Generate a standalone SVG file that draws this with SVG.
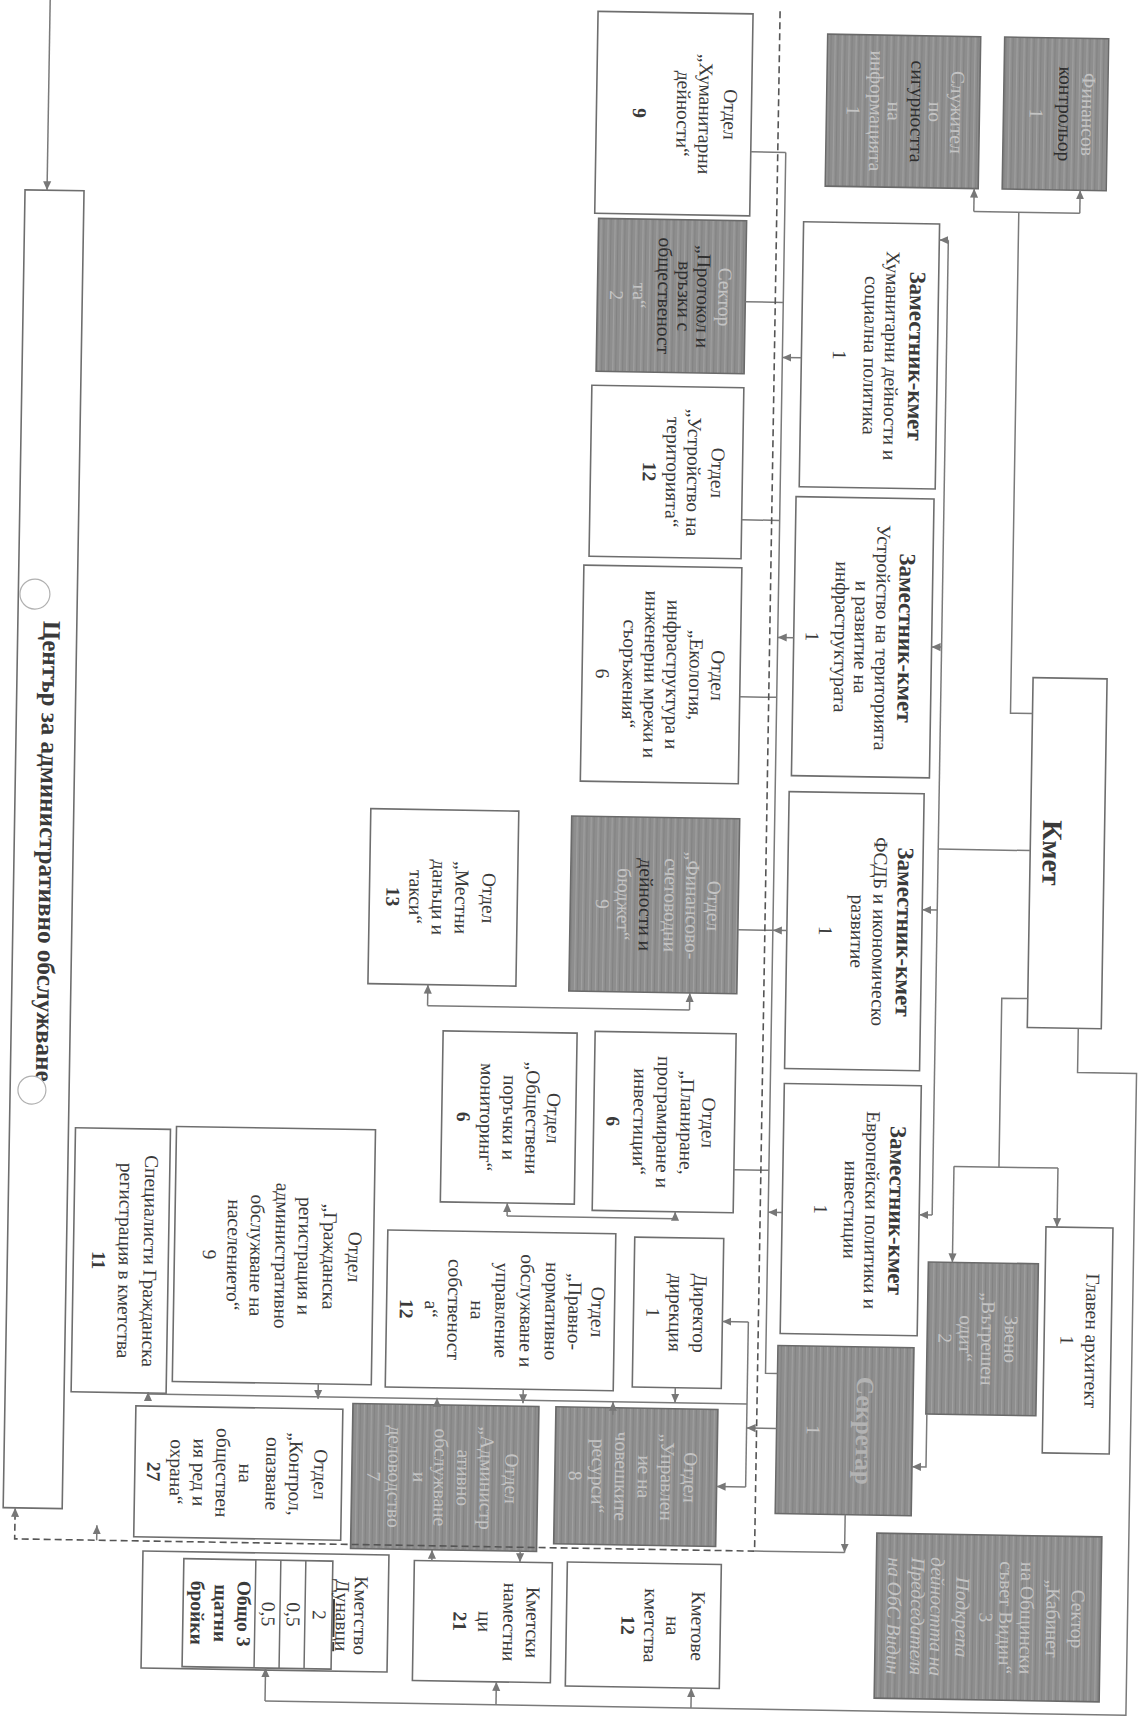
<svg xmlns="http://www.w3.org/2000/svg" width="1144" height="1719" viewBox="0 0 1144 1719">
<defs>
<style>
.box{fill:#fff;stroke:#6e6e6e;stroke-width:1.6}
.gbox{fill:url(#grain);stroke:#6a6a6a;stroke-width:1.6}
.ln{fill:none;stroke:#7a7a7a;stroke-width:1.5}
.ar{fill:none;stroke:#7a7a7a;stroke-width:1.5;marker-end:url(#ah)}
.dash{fill:none;stroke:#555;stroke-width:1.6;stroke-dasharray:7 4}
.art{fill:#fff;stroke:#b0b0b0;stroke-width:1.2}
text{font-family:"Liberation Serif","Times New Roman",serif;font-size:19.5px;fill:#3a3a3a;text-anchor:middle}
.b{font-weight:bold}
.h{font-size:23px;font-weight:bold}
.k{font-size:28px;font-weight:bold}
.s{font-size:25px;font-weight:bold}
.f{fill:#c4c4c4}
.d{fill:#2e2e2e}
.sk{fill:#b3b3b3}
.i{font-style:italic}
.u{text-decoration:underline}
</style>
<marker id="ah" viewBox="0 0 10 10" refX="10" refY="5" markerWidth="9" markerHeight="9" markerUnits="userSpaceOnUse" orient="auto">
<path d="M0,0.5 L10,5 L0,9.5 z" fill="#777"/>
</marker>
<pattern id="grain" width="7" height="40" patternUnits="userSpaceOnUse">
<rect width="7" height="40" fill="#8e8e8e"/>
<rect x="2" width="1.2" height="40" fill="#a0a0a0"/>
<rect x="5" width="0.8" height="40" fill="#7f7f7f"/>
</pattern>
</defs>
<g transform="rotate(0.95 572 860)">
<g id="nodes">
<g id="centar">
<rect class="box" x="14" y="199" width="59" height="1318"/>
<g transform="translate(43.5,860) rotate(90)"><text class="s" x="0" y="4">Център за административно обслужване</text></g>
<circle class="art" cx="30.6" cy="603" r="15"/>
<circle class="art" cx="35.8" cy="1099" r="14"/>
</g>
<g id="otdel-humanitarni">
<rect class="box" x="584" y="11" width="155" height="202"/>
<g transform="translate(661.5,112) rotate(90)">
<text y="-50">Отдел</text><text y="-25">„Хуманитарни</text><text y="-3">дейности“</text><text class="b" y="41">9</text>
</g></g>
<g id="sektor-protokol">
<rect class="gbox" x="588" y="218" width="148" height="153"/>
<g transform="translate(662,294.5) rotate(90)">
<text class="f" y="-47">Сектор</text><text class="d" y="-25.6">„Протокол и</text><text class="d" y="-6.6">връзки с</text><text class="d" y="13.4">общественост</text><text class="f" y="38.4">та“</text><text class="f" y="61.4">2</text>
</g></g>
<g id="sluzhitel-sigurnost">
<rect class="gbox" x="814" y="30" width="153" height="152"/>
<g transform="translate(890.5,106) rotate(90)">
<text class="f" y="-47.8">Служител</text><text class="f" y="-25.8">по</text><text class="d" y="-7.8">сигурността</text><text class="f" y="15.2">на</text><text class="f" y="33.2">информацията</text><text class="f" y="56.2">1</text>
</g></g>
<g id="finansov-kontrolor">
<rect class="gbox" x="991" y="30" width="104" height="152"/>
<g transform="translate(1043,106) rotate(90)">
<text class="f" y="-26.3">Финансов</text><text class="d" y="-3.3">контрольор</text><text class="f" y="25.7">1</text>
</g></g>
<g id="zam-humanitarni">
<rect class="box" x="793" y="218" width="136" height="265"/>
<g transform="translate(861,350.5) rotate(90)">
<text class="h" y="-39.5">Заместник-кмет</text><text y="-15.5">Хуманитарни дейности и</text><text y="5.5">социална политика</text><text y="36.5">1</text>
</g></g>
<g id="zam-ustroistvo">
<rect class="box" x="790" y="493" width="138" height="279"/>
<g transform="translate(859,632.5) rotate(90)">
<text class="h" y="-35.8">Заместник-кмет</text><text y="-13">Устройство на територията</text><text y="8">и развитие на</text><text y="28">инфраструктурата</text><text y="57">1</text>
</g></g>
<g id="zam-fsdb">
<rect class="box" x="788" y="788" width="135" height="277"/>
<g transform="translate(855.5,926.5) rotate(90)">
<text class="h" y="-42.5">Заместник-кмет</text><text y="-18.5">ФСДБ и икономическо</text><text y="3.5">развитие</text><text y="35.5">1</text>
</g></g>
<g id="zam-evropeiski">
<rect class="box" x="788" y="1080" width="137" height="250"/>
<g transform="translate(856.5,1205) rotate(90)">
<text class="h" y="-38.5">Заместник-кмет</text><text y="-14.5">Европейски политики и</text><text y="6.5">инвестиции</text><text y="36.5">1</text>
</g></g>
<g id="kmet">
<rect class="box" x="1030" y="670" width="74" height="350"/>
<g transform="translate(1067,845) rotate(90)"><text class="k" y="24.4">Кмет</text></g>
</g>
<g id="otdel-ustroistvo">
<rect class="box" x="584" y="385" width="152" height="171"/>
<g transform="translate(660,470.5) rotate(90)">
<text y="-44.8">Отдел</text><text y="-20.8">„Устройство на</text><text y="0.2">територията“</text><text class="b" y="23.7">12</text>
</g></g>
<g id="otdel-ekologia">
<rect class="box" x="579" y="565" width="158" height="216"/>
<g transform="translate(658,673) rotate(90)">
<text y="-50.3">Отдел</text><text y="-28.3">„Екология,</text><text y="-5.3">инфраструктура и</text><text y="16.7">инженерни мрежи и</text><text y="38.2">съоръжения“</text><text y="65.2">6</text>
</g></g>
<g id="otdel-finansovo">
<rect class="gbox" x="571" y="816" width="168" height="175"/>
<g transform="translate(655,903.5) rotate(90)">
<text class="f" y="-53">Отдел</text><text class="f" y="-31.6">„Финансово-</text><text class="f" y="-10">счетоводни</text><text class="d" y="15">дейности и</text><text class="f" y="37">бюджет“</text><text class="f" y="58.4">9</text>
</g></g>
<g id="otdel-mestni">
<rect class="box" x="370" y="812" width="148" height="175"/>
<g transform="translate(444,899.5) rotate(90)">
<text y="-38.9">Отдел</text><text y="-11.9">„Местни</text><text y="11.1">данъци и</text><text y="34.1">такси“</text><text class="b" y="57.1">13</text>
</g></g>
<g id="otdel-planirane">
<rect class="box" x="598" y="1031" width="141" height="179"/>
<g transform="translate(668.5,1120.5) rotate(90)">
<text y="-37.8">Отдел</text><text y="-16.3">„Планиране,</text><text y="7.2">програмиране и</text><text y="30.7">инвестиции“</text><text class="b" y="57.7">6</text>
</g></g>
<g id="otdel-obshtestveni">
<rect class="box" x="446" y="1033" width="134" height="171"/>
<g transform="translate(513,1118.5) rotate(90)">
<text y="-38.3">Отдел</text><text y="-17.3">„Обществени</text><text y="5.7">поръчки и</text><text y="28.7">мониторинг“</text><text class="b" y="51.7">6</text>
</g></g>
<g id="direktor">
<rect class="box" x="641" y="1236" width="89" height="150"/>
<g transform="translate(685.5,1311) rotate(90)">
<text y="-15.3">Директор</text><text y="8.7">дирекция</text><text y="31.7">1</text>
</g></g>
<g id="otdel-pravno">
<rect class="box" x="394" y="1233" width="228" height="157"/>
<g transform="translate(508,1311.5) rotate(90)">
<text y="-90.8">Отдел</text><text y="-67.8">„Правно-</text><text y="-44.8">нормативно</text><text y="-19.8">обслужване и</text><text y="5.2">управление</text><text y="29.7">на</text><text y="52.7">собственост</text><text y="75.7">а“</text><text class="b" y="100.7">12</text>
</g></g>
<g id="otdel-grazhdanska">
<rect class="box" x="181" y="1133" width="199" height="255"/>
<g transform="translate(280.5,1260.5) rotate(90)">
<text y="-74.4">Отдел</text><text y="-49.4">„Гражданска</text><text y="-24.4">регистрация и</text><text y="-1.4">административно</text><text y="23.6">обслужване на</text><text y="46.6">населението“</text><text y="71">9</text>
</g></g>
<g id="specialisti">
<rect class="box" x="80" y="1136" width="95" height="264"/>
<g transform="translate(127.5,1268) rotate(90)">
<text y="-22.8">Специалисти Гражданска</text><text y="2.2">регистрация в кметства</text><text class="b" y="28.8">11</text>
</g></g>
<g id="otdel-kontrol">
<rect class="box" x="145" y="1413" width="207" height="131"/>
<g transform="translate(248.5,1478.5) rotate(90)">
<text y="-75.8">Отдел</text><text y="-50.8">„Контрол,</text><text y="-27.8">опазване</text><text y="-0.8">на</text><text y="22.2">обществен</text><text y="45.2">ия ред и</text><text y="68.2">охрана“</text><text class="b" y="91.2">27</text>
</g></g>
<g id="otdel-administrativno">
<rect class="gbox" x="362" y="1407" width="186" height="145"/>
<g transform="translate(455,1479.5) rotate(90)">
<text class="f" y="-60.3">Отдел</text><text class="f" y="-35.3">„Администр</text><text class="f" y="-12.3">ативно</text><text class="f" y="10.7">обслужване</text><text class="f" y="31.7">и</text><text class="f" y="56.7">деловодство</text><text class="f" y="77.7">7</text>
</g></g>
<g id="otdel-choveshki-resursi">
<rect class="gbox" x="565" y="1407" width="162" height="137"/>
<g transform="translate(646,1475.5) rotate(90)">
<text class="f" y="-48">Отдел</text><text class="f" y="-25">„Управлен</text><text class="f" y="-2">ие на</text><text class="f" y="21">човешките</text><text class="f" y="44">ресурси“</text><text class="f" y="67">8</text>
</g></g>
<g id="zveno-odit">
<rect class="gbox" x="935" y="1256" width="110" height="152"/>
<g transform="translate(990,1332) rotate(90)">
<text class="f" y="-22.3">Звено</text><text class="f" y="0.7">„Вътрешен</text><text class="f" y="22.7">одит“</text><text class="f" y="43.7">2</text>
</g></g>
<g id="sekretar">
<rect class="gbox" x="786" y="1342" width="136" height="168"/>
<g transform="translate(854,1426) rotate(90)">
<text class="s sk" y="-11.5">Секретар</text><text class="f" y="38">1</text>
</g></g>
<g id="glaven-arhitekt">
<rect class="box" x="1052" y="1219" width="67" height="226"/>
<g transform="translate(1085.5,1332) rotate(90)">
<text y="-7.8">Главен архитект</text><text y="17.2">1</text>
</g></g>
<g id="sektor-kabinet">
<rect class="gbox" x="888" y="1528" width="225" height="165"/>
<g transform="translate(1000.5,1610.5) rotate(90)">
<text class="f" y="-83.3">Сектор</text><text class="f" y="-58.3">„Кабинет</text><text class="f" y="-32.3">на Общински</text><text class="f" y="-11.3">съвет Видин“</text><text class="f" y="8.7">3</text><text class="f i" y="32.2">Подкрепа</text><text class="f i" y="57.7">дейността на</text><text class="f i" y="77.2">Председателя</text><text class="f i" y="100.7">на ОбС Видин</text>
</g></g>
<g id="kmetski-namestnici">
<rect class="box" x="426" y="1563" width="138" height="120"/>
<g transform="translate(495,1623) rotate(90)">
<text y="-43.9">Кметски</text><text y="-20.9">наместни</text><text y="4.1">ци</text><text class="b" y="29.1">21</text>
</g></g>
<g id="kmetove">
<rect class="box" x="579" y="1562" width="154" height="124"/>
<g transform="translate(656,1624) rotate(90)">
<text y="-48">Кметове</text><text y="-23">на</text><text y="-1">кметства</text><text class="b" y="22">12</text>
</g></g>
<g id="kmetstvo-dunavtsi">
<rect class="box" x="154.5" y="1558" width="246" height="117"/>
<rect class="box" x="195.5" y="1565" width="149" height="108"/>
<path class="ln" d="M267.5 1565 V1673 M292.5 1565 V1673 M317.5 1565 V1673" style="stroke:#6e6e6e"/>
<g transform="translate(277.5,1619) rotate(90)">
<text y="-89.3">Кметство</text><text class="u" y="-70.8">Дунавци</text><text y="-47.8">2</text><text y="-21.8">0,5</text><text y="3.2">0,5</text><text class="b" y="27.7">Общо 3</text><text class="b" y="50.7">щатни</text><text class="b" y="74.2">бройки</text>
</g></g>
</g>
<g id="connectors">
<path class="ar" d="M36 0 V199"/>
<path class="ln" d="M963 205 H1069"/>
<path class="ar" d="M963 205 V182"/>
<path class="ar" d="M1069 205 V182"/>
<path class="ln" d="M1008 205 V706 H1030"/>
<path class="ln" d="M1030 843 H938"/>
<path class="ln" d="M938 234 V1209"/>
<path class="ar" d="M938 234 H929"/>
<path class="ar" d="M938 641 H928"/>
<path class="ar" d="M938 904 H923"/>
<path class="ar" d="M938 1209 H925"/>
<path class="ln" d="M1030 991 H1004 V1160"/>
<path class="ln" d="M959 1160 H1063"/>
<path class="ar" d="M959 1160 V1256"/>
<path class="ar" d="M1063 1160 V1219"/>
<path class="ar" d="M936 1408 V1461 H922"/>
<path class="ln" d="M1081 1020 V1064 H1140 V1706 H279"/>
<path class="ar" d="M279 1706 V1673"/>
<path class="ar" d="M510 1706 V1683"/>
<path class="ar" d="M705 1706 V1686"/>
<path class="ln" d="M774 149 V1370 H786"/>
<path class="ln" d="M739 149 H774 M736 299 H774 M736 517 H774 M737 694 H774 M739 927 H774 M739 1167 H774"/>
<path class="ar" d="M793 354 H774"/>
<path class="ar" d="M790 634 H774"/>
<path class="ar" d="M788 927 H774"/>
<path class="ar" d="M788 1209 H774"/>
<path class="ln" d="M430 1008 H692"/>
<path class="ar" d="M430 1008 V987"/>
<path class="ar" d="M692 1008 V991"/>
<path class="ln" d="M513 1217 H681"/>
<path class="ar" d="M513 1217 V1204"/>
<path class="ar" d="M681 1217 V1210"/>
<path class="ln" d="M157 1401 H756"/>
<path class="ln" d="M756 1319 V1484"/>
<path class="ar" d="M756 1319 H730"/>
<path class="ar" d="M786 1425 H756"/>
<path class="ar" d="M756 1484 H727"/>
<path class="ar" d="M157 1407 V1399"/>
<path class="ar" d="M327 1388 V1403"/>
<path class="ar" d="M446 1409 V1400"/>
<path class="ar" d="M532 1390 V1404"/>
<path class="ar" d="M622 1414 V1401"/>
<path class="ar" d="M684 1386 V1401"/>
<path class="dash" d="M766 8 V1548 H26 V1524"/>
<path class="ar" d="M26 1526 V1517"/>
<path class="ar" d="M108 1548 V1533"/>
<path class="ar" d="M856 1510 V1548"/>
<path class="ln" d="M856 1548 H766"/>
<path class="ar" d="M443.5 1563 V1552"/>
<path class="ar" d="M531.6 1552 V1563"/>
</g>
</g>
</svg>
